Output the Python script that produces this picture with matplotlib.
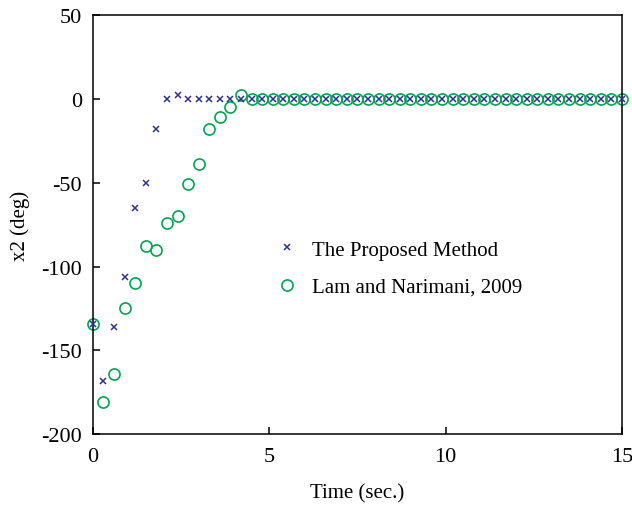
import numpy as np
import matplotlib
matplotlib.use("Agg")
from matplotlib import pyplot as plt

# sample times (step 0.3 s)
time = np.round(np.arange(0, 15.0001, 0.3), 2)

proposed_head = [-134, -168, -136, -106, -65, -50, -18, 0, 2.5, 0, 0, 0, 0, 0, 0]
lam_head = [-134, -181, -164, -125, -110, -88, -90, -74, -70, -51, -39, -18, -10.5, -5, 2.5]

proposed = proposed_head + [0] * (len(time) - len(proposed_head))
lam = lam_head + [0] * (len(time) - len(lam_head))

plt.rcParams.update(
    {
        "font.family": "Liberation Serif",
        "font.size": 12,
        "axes.unicode_minus": False,
        "xtick.direction": "in",
        "ytick.direction": "in",
        "axes.linewidth": 1.1,
    }
)

fig = plt.figure(figsize=(6.32, 5.06), dpi=100)
ax = fig.add_axes([0.147, 0.140, 0.837, 0.828])

ax.plot(time, proposed, linestyle="none", marker="x", markersize=5, markeredgewidth=1.1,
        color="#2e3192", label="The Proposed Method", clip_on=False, zorder=3)
ax.plot(time, lam, linestyle="none", marker="o", markersize=8, markerfacecolor="none",
        markeredgewidth=1.2, color="#00a651", label="Lam and Narimani, 2009", clip_on=False)

ax.set_xlim(0, 15)
ax.set_ylim(-200, 50)
ax.set_xticks([0, 5, 10, 15])
ax.set_yticks([-200, -150, -100, -50, 0, 50])
ax.tick_params(labelsize=16, length=5, width=1.1)
ax.tick_params(axis="x", pad=9)
ax.tick_params(axis="y", pad=8)
ax.set_xlabel("Time (sec.)", fontsize=15, labelpad=13)
ax.set_ylabel("x2 (deg)", fontsize=15, labelpad=8)

ax.legend(loc="upper left", bbox_to_anchor=(0.302, 0.508), frameon=False, fontsize=15,
          handletextpad=0.45, labelspacing=0.85, handlelength=1.5)

fig.savefig("out.png", dpi=100)
